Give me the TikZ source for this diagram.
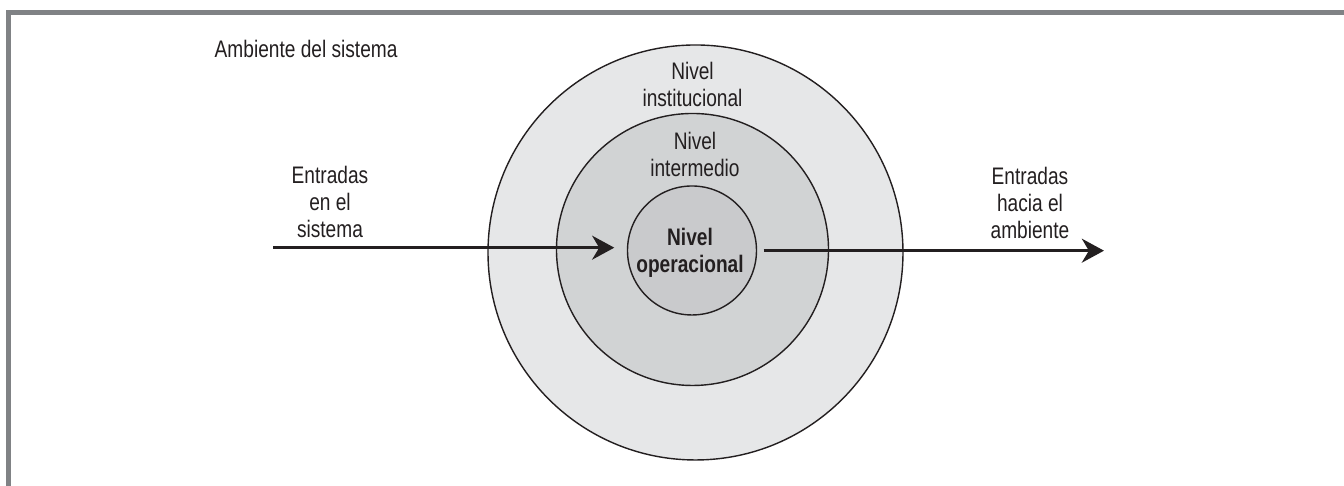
\documentclass[tikz,border=0pt]{standalone}
\usepackage{fontspec}
\setmainfont{Liberation Sans}[FakeStretch=0.8]
\usetikzlibrary{arrows.meta}
\definecolor{marco}{HTML}{808285}
\definecolor{tinta}{HTML}{231F20}
\definecolor{nivA}{HTML}{E6E7E8}
\definecolor{nivB}{HTML}{D1D3D4}
\definecolor{nivC}{HTML}{C9CACC}

\begin{document}
\begin{tikzpicture}[
  nivel/.style={circle, draw=tinta, line width=0.4pt, inner sep=0pt},
  flecha/.style={tinta, line width=0.85pt, -{Stealth[length=6.3pt,width=6.8pt,inset=2pt]}},
  txt/.style={text=tinta, align=center, inner sep=0pt, font=\fontsize{6.8}{7.7}\selectfont}]
%\draw [help lines] (0,0) grid (13,4);
\useasboundingbox (0,0) rectangle (13.44,4.86);
\draw [marco, line width=0.055cm] (13.44,4.735)--(0.085,4.735)--(0.085,0);
\node [nivel, fill=nivA, minimum size=4.15cm] (inst) at (6.955,2.335) {};
\node [nivel, fill=nivB, minimum size=2.72cm] (inter) at (6.925,2.365) {};
\node [nivel, fill=nivC, minimum size=1.29cm] (oper) at (6.92,2.355) {};
\node [txt] (tinst) at (6.925,4.015) {Nivel\\institucional};
\node [txt] (tinter) at (6.95,3.315) {Nivel\\intermedio};
\node [txt, font=\fontsize{6.8}{7.7}\selectfont\bfseries] (toper) at (6.9,2.335) {Nivel\\operacional};
\node [txt, anchor=base west] (amb) at (2.14,4.28) {Ambiente del sistema};
\node [txt] (tin) at (3.30,2.84) {Entradas\\en el\\sistema};
\node [txt] (tout) at (10.30,2.83) {Entradas\\hacia el\\ambiente};
\coordinate (ein) at (2.73,2.383);
\coordinate (eout) at (11.04,2.353);
\draw [flecha, shorten >=1.25mm] (ein) -- (oper.west |- ein);
\draw [flecha, shorten <=0.65mm] (oper.east |- eout) -- (eout);
\end{tikzpicture}
\end{document}
